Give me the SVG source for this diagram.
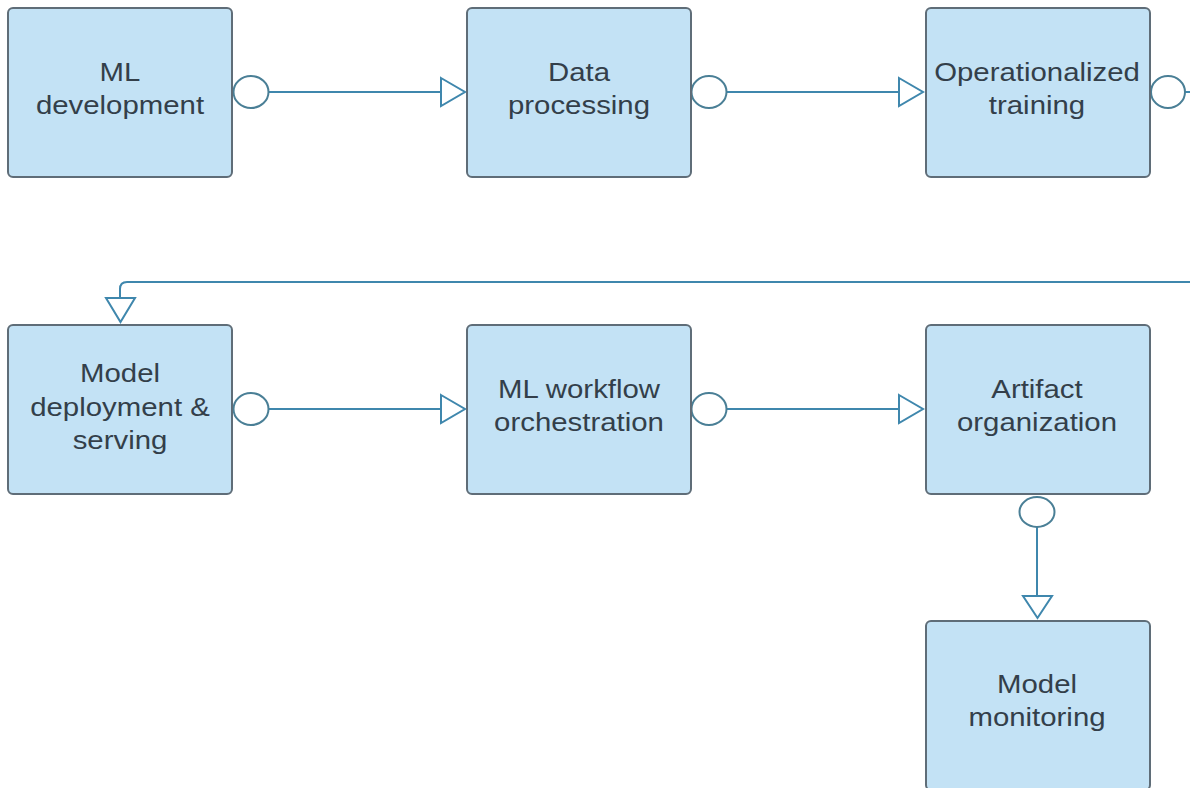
<svg xmlns="http://www.w3.org/2000/svg" width="1190" height="788" viewBox="0 0 1190 788">
  <style>
    .box { fill: #c3e2f5; stroke: #5f6d78; stroke-width: 2; }
    .lbl { font-family: "Liberation Sans", Arial, sans-serif; font-size: 26px; fill: #333f4a; text-anchor: middle; }
    .wire { fill: none; stroke: #3f87ad; stroke-width: 2; }
    .tail { fill: #ffffff; stroke: #4a7f96; stroke-width: 2; }
    .head { fill: #ffffff; stroke: #3f87ad; stroke-width: 2; stroke-linejoin: miter; }
  </style>
  <rect width="1190" height="788" fill="#ffffff"/>

  <!-- connectors -->
  <g id="connectors">
    <!-- ML development -> Data processing -->
    <line class="wire" x1="268" y1="92" x2="441" y2="92"/>
    <ellipse class="tail" cx="251" cy="92" rx="17.5" ry="16"/>
    <polygon class="head" points="441,78 465,92 441,106"/>

    <!-- Data processing -> Operationalized training -->
    <line class="wire" x1="727" y1="92" x2="899" y2="92"/>
    <ellipse class="tail" cx="709" cy="92" rx="17.5" ry="16"/>
    <polygon class="head" points="899,78 923,92 899,106"/>

    <!-- Operationalized training -> Model deployment & serving (wraps round the right edge) -->
    <path class="wire" d="M1185,92 H1194 V282 H127 Q120,282 120,289 V298"/>
    <ellipse class="tail" cx="1168" cy="92" rx="17" ry="16"/>
    <polygon class="head" points="106,298 135,298 120.5,322"/>

    <!-- Model deployment & serving -> ML workflow orchestration -->
    <line class="wire" x1="268" y1="409" x2="441" y2="409"/>
    <ellipse class="tail" cx="251" cy="409" rx="17.5" ry="16"/>
    <polygon class="head" points="441,395 465,409 441,423"/>

    <!-- ML workflow orchestration -> Artifact organization -->
    <line class="wire" x1="727" y1="409" x2="899" y2="409"/>
    <ellipse class="tail" cx="709" cy="409" rx="17.5" ry="16"/>
    <polygon class="head" points="899,395 923,409 899,423"/>

    <!-- Artifact organization -> Model monitoring -->
    <line class="wire" x1="1037" y1="527" x2="1037" y2="596"/>
    <ellipse class="tail" cx="1037" cy="512" rx="17.5" ry="15"/>
    <polygon class="head" points="1023,596 1052,596 1037.5,618"/>
  </g>

  <g id="ml-development">
    <rect class="box" x="8" y="8" width="224" height="169" rx="5"/>
    <text class="lbl" transform="translate(120,0) scale(1.13,1)"><tspan x="0" y="81">ML</tspan><tspan x="0" y="114">development</tspan></text>
  </g>

  <g id="data-processing">
    <rect class="box" x="467" y="8" width="224" height="169" rx="5"/>
    <text class="lbl" transform="translate(579,0) scale(1.13,1)"><tspan x="0" y="81">Data</tspan><tspan x="0" y="114">processing</tspan></text>
  </g>

  <g id="operationalized-training">
    <rect class="box" x="926" y="8" width="224" height="169" rx="5"/>
    <text class="lbl" transform="translate(1037,0) scale(1.13,1)"><tspan x="0" y="81">Operationalized</tspan><tspan x="0" y="114">training</tspan></text>
  </g>

  <g id="model-deployment-serving">
    <rect class="box" x="8" y="325" width="224" height="169" rx="5"/>
    <text class="lbl" transform="translate(120,0) scale(1.13,1)"><tspan x="0" y="382">Model</tspan><tspan x="0" y="416">deployment &amp;</tspan><tspan x="0" y="449">serving</tspan></text>
  </g>

  <g id="ml-workflow-orchestration">
    <rect class="box" x="467" y="325" width="224" height="169" rx="5"/>
    <text class="lbl" transform="translate(579,0) scale(1.13,1)"><tspan x="0" y="398">ML workflow</tspan><tspan x="0" y="431">orchestration</tspan></text>
  </g>

  <g id="artifact-organization">
    <rect class="box" x="926" y="325" width="224" height="169" rx="5"/>
    <text class="lbl" transform="translate(1037,0) scale(1.13,1)"><tspan x="0" y="398">Artifact</tspan><tspan x="0" y="431">organization</tspan></text>
  </g>

  <g id="model-monitoring">
    <rect class="box" x="926" y="621" width="224" height="169" rx="5"/>
    <text class="lbl" transform="translate(1037,0) scale(1.13,1)"><tspan x="0" y="693">Model</tspan><tspan x="0" y="726">monitoring</tspan></text>
  </g>
</svg>
